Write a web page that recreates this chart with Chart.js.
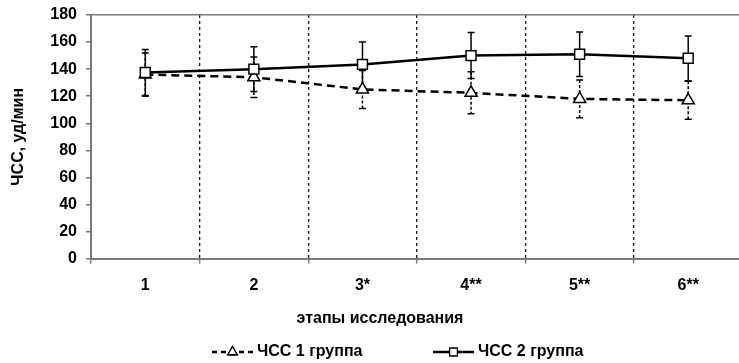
<!DOCTYPE html>
<html>
<head>
<meta charset="utf-8">
<script src="https://cdn.jsdelivr.net/npm/chart.js@4"></script>
<style>
  html, body { margin: 0; padding: 0; overflow: hidden; background: #fff; }
</style>
</head>
<body>
<canvas id="hr-chart" width="751" height="363"></canvas>
<script>
const stages = ['1', '2', '3*', '4**', '5**', '6**']
const group1 = [136, 134, 125, 122.5, 118, 117]
const group1Err = [16, 15, 14, 15.5, 14, 14]
const group2 = [137.5, 140, 143.5, 150, 151, 148]
const group2Err = [17, 16.5, 16.5, 17, 16.5, 16.5]
const yTicks = [0, 20, 40, 60, 80, 100, 120, 140, 160, 180]

const FONT = "'Liberation Sans', Arial, sans-serif"
const axisGray = '#7a7a7a'

// error bars, drawn under the markers
const errorBars = {
  id: 'errorBars',
  beforeDatasetsDraw(chart) {
    const ctx = chart.ctx
    const y = chart.scales.y
    chart.data.datasets.forEach((ds, di) => {
      const meta = chart.getDatasetMeta(di)
      ctx.save()
      ctx.strokeStyle = '#000'
      ctx.lineWidth = 1.5
      ctx.setLineDash(ds.errDash)
      meta.data.forEach((pt, i) => {
        const top = y.getPixelForValue(ds.data[i] + ds.err[i])
        const bot = y.getPixelForValue(ds.data[i] - ds.err[i])
        ctx.beginPath()
        ctx.moveTo(pt.x, top)
        ctx.lineTo(pt.x, bot)
        ctx.stroke()
        ctx.setLineDash([])
        ctx.beginPath()
        ctx.moveTo(pt.x - 3.5, top)
        ctx.lineTo(pt.x + 3.5, top)
        ctx.moveTo(pt.x - 3.5, bot)
        ctx.lineTo(pt.x + 3.5, bot)
        ctx.stroke()
        ctx.setLineDash(ds.errDash)
      })
      ctx.restore()
    })
  }
}

// legend with line + marker samples
const lineLegend = {
  id: 'lineLegend',
  afterDraw(chart) {
    const ctx = chart.ctx
    const yy = 352
    const items = [
      { ds: chart.data.datasets[0], x: 212, dash: [5, 4] },
      { ds: chart.data.datasets[1], x: 433, dash: [] }
    ]
    items.forEach(({ ds, x, dash }) => {
      ctx.save()
      ctx.strokeStyle = '#000'
      ctx.lineWidth = 2.5
      ctx.setLineDash(dash)
      ctx.beginPath()
      ctx.moveTo(x, yy)
      ctx.lineTo(x + 41, yy)
      ctx.stroke()
      ctx.setLineDash([])
      ctx.lineWidth = 1.3
      Chart.helpers.drawPoint(ctx, {
        pointStyle: ds.pointStyle,
        radius: ds.pointRadius - 1.5,
        borderWidth: 1.3
      }, x + 20.5, yy)
      ctx.fillStyle = '#fff'
      ctx.fill()
      ctx.stroke()
      ctx.fillStyle = '#000'
      ctx.font = 'bold 16px ' + FONT
      ctx.textBaseline = 'middle'
      ctx.textAlign = 'left'
      ctx.fillText(ds.label, x + 45, yy)
      ctx.restore()
    })
  }
}

const data = {
  labels: stages,
  datasets: [
    {
      label: 'ЧСС 1 группа',
      data: group1,
      err: group1Err,
      errDash: [3, 2],
      borderColor: '#000',
      borderWidth: 2.5,
      borderDash: [8, 5],
      pointStyle: 'triangle',
      pointRadius: 7,
      pointBackgroundColor: '#fff',
      pointBorderColor: '#000',
      pointBorderWidth: 1.5,
      tension: 0,
      order: 1,
    },
    {
      label: 'ЧСС 2 группа',
      data: group2,
      err: group2Err,
      errDash: [],
      borderColor: '#000',
      borderWidth: 2.5,
      pointStyle: 'rect',
      pointRadius: 7,
      pointBackgroundColor: '#fff',
      pointBorderColor: '#000',
      pointBorderWidth: 1.5,
      tension: 0,
      order: 0,
    },
  ],
}

const config = {
  type: 'line',
  data: data,
  options: {
    responsive: false,
    animation: false,
    layout: { padding: { left: 9, right: 0, top: 15, bottom: 0 } },
    plugins: {
      legend: { display: false },
      tooltip: { enabled: false },
      title: {
        display: true,
        position: 'bottom',
        text: 'этапы исследования',
        color: '#000',
        font: { family: FONT, size: 16, weight: 'bold' },
        padding: { top: 2, bottom: 35 },
      },
    },
    scales: {
      x: {
        offset: true,
        grid: {
          offset: true,
          color: '#1a1a1a',
          lineWidth: 1.3,
          tickLength: 5,
          tickColor: axisGray,
          tickWidth: 1.5,
        },
        border: { display: true, color: axisGray, width: 2, dash: [3, 3] },
        ticks: {
          color: '#000',
          padding: 12,
          maxRotation: 0,
          font: { family: FONT, size: 16, weight: 'bold' },
        },
      },
      y: {
        min: 0,
        max: 180,
        afterBuildTicks(axis) {
          axis.ticks = yTicks.map(v => ({ value: v }))
        },
        afterFit(axis) {
          axis.width = 82
          axis.paddingTop = 0
          axis.paddingBottom = 0
        },
        grid: {
          color: ctx => (ctx.tick && ctx.tick.value === 180 ? axisGray : 'rgba(0,0,0,0)'),
          lineWidth: 1.5,
          tickLength: 5,
          tickColor: axisGray,
          tickWidth: 1.5,
        },
        border: { display: true, color: axisGray, width: 2 },
        ticks: {
          color: '#000',
          padding: 9,
          font: { family: FONT, size: 16, weight: 'bold' },
        },
        title: {
          display: true,
          text: 'ЧСС, уд/мин',
          color: '#000',
          padding: { top: 0, bottom: 0 },
          font: { family: FONT, size: 16, weight: 'bold' },
        },
      },
    },
  },
  plugins: [errorBars, lineLegend],
}

const hr_chart = document.getElementById('hr-chart')
const chart = new Chart(hr_chart, config)
</script>
</body>
</html>
